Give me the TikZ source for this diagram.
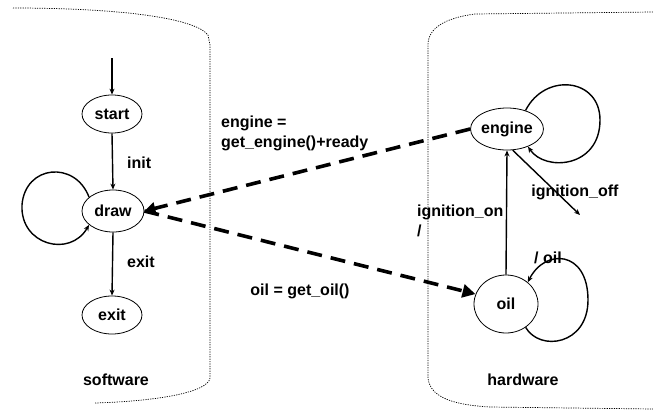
\documentclass[tikz,border=0pt]{standalone}
\usepackage{fontspec}
\setmainfont{Liberation Sans}
\usetikzlibrary{arrows.meta,shapes.geometric}
\newcommand{\dgfont}{\fontsize{16}{20}\selectfont\bfseries}
\tikzset{
  st/.style={draw, ellipse, line width=0.8pt, inner sep=0pt, font=\dgfont},
  lbl/.style={font=\dgfont, inner sep=0pt},
  tr/.style={line width=1.4pt, -{Stealth[length=6pt,width=5pt]}},
  flow/.style={line width=3.6pt, dash pattern=on 15pt off 9pt},
  box/.style={line width=0.7pt, dash pattern=on 1.2pt off 1.2pt},
}
\begin{document}
\begin{tikzpicture}[x=1pt,y=-1pt]
\useasboundingbox[fill=white] (0,0) rectangle (653,410);
% containers
\draw[box] (13,8) .. controls (120,8) and (195,18) .. (208,35) -- (210,45) -- (210,378)
  .. controls (208,392) and (160,401) .. (95,403);
\draw[box] (653,12) -- (475,14) .. controls (445,18) and (428,28) .. (428,45) -- (428,378)
  .. controls (430,398) and (455,405) .. (490,407) -- (653,409);
% states
\node[st, minimum width=60pt, minimum height=38pt] (start) at (112,114) {start};
\node[st, minimum width=62pt, minimum height=42pt] (drawst) at (113,211) {draw};
\node[st, minimum width=60pt, minimum height=38pt] (exit) at (112,315) {exit};
\node[st, minimum width=63pt, minimum height=42pt] (engine) at (507,129) {engine};
\node[st, minimum width=64pt, minimum height=58pt] (oil) at (506,304) {oil};
% labels
\node[lbl] (swl) at (116,380) {software};
\node[lbl] (hwl) at (523,380) {hardware};
\node[lbl, anchor=west] (initl) at (127,163) {init};
\node[lbl, anchor=west] (exitl) at (127,262) {exit};
\node[lbl, anchor=west, align=left] (engl) at (221,133) {engine =\\get\_engine()+ready};
\node[lbl] (oill) at (300,291) {oil = get\_oil()};
\node[lbl, anchor=west, align=left] (ionl) at (417,221) {ignition\_on\\/};
\node[lbl] (ioffl) at (575,192) {ignition\_off};
\node[lbl] (soill) at (548,258) {/ oil};
% transitions
\coordinate (init0) at (112,58);
\coordinate (offend) at (580,215);
\draw[tr] (init0) -- (start.north);
\draw[tr] (start.south) -- (drawst.north);
\draw[tr] (drawst.south) -- (exit.north);
\draw[tr] (drawst.150) .. controls (75,160) and (25,165) .. (22,205) .. controls (20,245) and (70,258) .. (drawst.210);
\draw[tr] (oil.north) -- (engine.south);
\draw[tr] (engine.-75) -- (offend);
\draw[tr] (engine.45) .. controls (545,72) and (600,78) .. (600,120) .. controls (600,168) and (545,172) .. (engine.-40);
\draw[tr] (oil.-50) .. controls (540,352) and (588,345) .. (588,300) .. controls (588,250) and (545,248) .. (oil.45);
% data flows
\draw[flow, -{Triangle[length=11pt,width=12pt]}] (engine.west) -- (drawst.east);
\draw[flow, -{Triangle[length=13pt,width=13pt]}] (drawst.east) -- (oil.162);
\end{tikzpicture}
\end{document}
